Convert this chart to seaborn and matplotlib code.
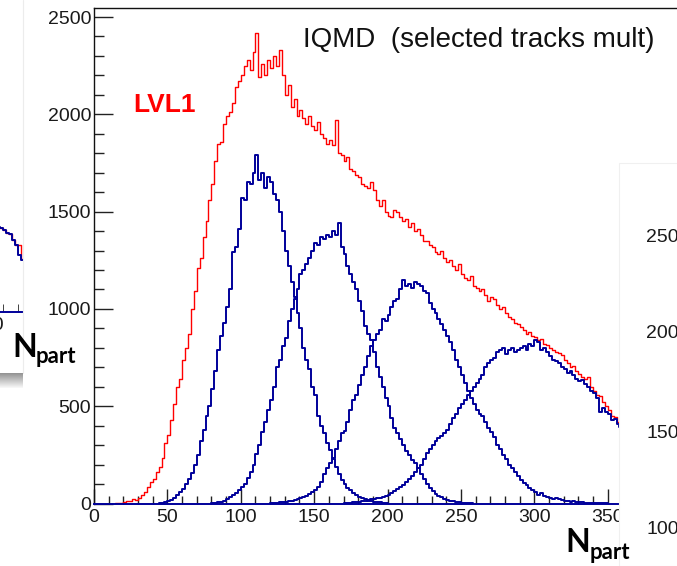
import numpy as np
import pandas as pd
import matplotlib
matplotlib.use("Agg")
import matplotlib.pyplot as plt
import seaborn as sns
from matplotlib.ticker import MultipleLocator
from matplotlib.patches import Rectangle
from matplotlib.lines import Line2D

# ---------------- data (bin width 2) ----------------
BIN = 2
red_start = 14
red_vals = [3, 5, 4, 10, 12, 15, 22, 20, 30, 42, 60, 85, 110, 125, 160, 190, 235, 310, 350, 430,
            510, 600, 640, 740, 800, 870, 1000, 1090, 1210, 1260, 1370, 1450, 1560, 1640, 1760, 1850,
            1860, 1950, 1990, 2010, 2060, 2140, 2170, 2200, 2250, 2280, 2230, 2320, 2420, 2190, 2260,
            2200, 2280, 2240, 2300, 2250, 2330, 2200, 2100, 2150, 2040, 2080, 1990, 2020, 1980, 1950,
            1990, 1940, 1920, 1960, 1900, 1880, 1850, 1870, 1840, 1970, 1800, 1790, 1760, 1780, 1720,
            1710, 1690, 1680, 1640, 1630, 1620, 1650, 1610, 1560, 1530, 1560, 1500, 1480, 1470, 1510,
            1500, 1470, 1450, 1460, 1420, 1440, 1400, 1410, 1380, 1350, 1350, 1330, 1320, 1290, 1280,
            1300, 1260, 1240, 1250, 1220, 1200, 1230, 1180, 1160, 1150, 1170, 1120, 1110, 1090, 1100,
            1070, 1040, 1060, 1050, 1020, 1000, 1010, 980, 960, 950, 930, 920, 905, 890, 870, 880, 860,
            855, 840, 845, 820, 815, 800, 790, 780, 775, 765, 740, 720, 700, 705, 680, 665, 650, 640,
            650, 600, 580, 560, 550, 520, 500, 480, 450, 445, 420, 405]

blue1_start = 44
blue1_vals = [2, 5, 8, 12, 18, 30, 45, 60, 75, 100, 125, 155, 200, 250, 320, 380, 450, 500, 590, 680,
              790, 860, 930, 1010, 1100, 1290, 1320, 1410, 1570, 1560, 1650, 1640, 1700, 1790, 1660,
              1700, 1620, 1680, 1650, 1590, 1560, 1500, 1400, 1300, 1220, 1140, 1060, 980, 900, 800,
              740, 690, 600, 560, 450, 400, 360, 310, 275, 230, 190, 150, 120, 100, 80, 70, 55, 45, 35,
              28, 22, 15, 12, 10, 8, 6, 4, 2]

blue2_start = 80
blue2_vals = [2, 4, 6, 10, 15, 25, 35, 45, 55, 70, 85, 100, 130, 160, 200, 255, 300, 370, 420, 480,
              530, 600, 700, 740, 810, 850, 940, 1000, 1050, 1100, 1180, 1200, 1230, 1260, 1300, 1340,
              1330, 1370, 1360, 1380, 1370, 1400, 1380, 1440, 1320, 1280, 1220, 1180, 1140, 1100, 1040,
              990, 910, 870, 840, 780, 700, 650, 600, 540, 500, 440, 390, 360, 330, 300, 270, 250, 225,
              210, 180, 150, 125, 100, 80, 65, 50, 40, 32, 25, 20, 15, 12, 9, 7, 5, 4, 3, 2]

blue3_start = 120
blue3_vals = [2, 3, 5, 6, 8, 10, 12, 15, 18, 22, 26, 32, 40, 50, 60, 70, 85, 110, 150, 180, 210, 235,
              280, 320, 360, 375, 420, 480, 530, 560, 610, 660, 700, 760, 810, 840, 870, 890, 950, 940,
              970, 1010, 1040, 1050, 1100, 1150, 1120, 1130, 1110, 1140, 1130, 1120, 1090, 1080, 1030,
              1000, 980, 950, 920, 890, 860, 830, 790, 740, 700, 660, 620, 580, 540, 510, 480, 460, 450,
              420, 390, 370, 340, 300, 280, 250, 230, 200, 180, 160, 140, 120, 105, 95, 80, 70, 60, 45,
              55, 40, 35, 30, 25, 28, 22, 18, 15, 12, 10, 14, 8, 6, 8, 5, 4, 3, 3, 2, 2, 1, 1]

blue4_start = 170
blue4_vals = [2, 3, 5, 6, 8, 10, 12, 15, 18, 22, 25, 28, 30, 33, 36, 45, 55, 65, 75, 85, 95, 110, 125,
              140, 160, 180, 200, 230, 260, 280, 300, 320, 335, 345, 360, 380, 410, 440, 460, 490, 510,
              530, 560, 580, 600, 620, 640, 660, 700, 720, 740, 750, 780, 790, 800, 770, 790, 800, 780,
              790, 800, 810, 790, 820, 810, 840, 830, 790, 800, 780, 760, 740, 730, 720, 700, 690, 670,
              680, 660, 640, 630, 635, 615, 600, 580, 570, 540, 470, 490, 470, 460, 430, 435, 410, 395]

# fragment of the neighbouring (left) panel
left_start = 340
left_blue_vals = [470, 460, 455, 445, 440, 438, 430, 428, 425, 420, 410, 395, 390, 360, 335, 285, 260]
left_red_vals = [470, 460, 455, 445, 440, 438, 430, 428, 425, 420, 410, 395, 390, 360, 335, 335, 262]

x_major = [0, 50, 100, 150, 200, 250, 300, 350]
y_major = [0, 500, 1000, 1500, 2000, 2500]
right_labels = ["2500", "2000", "1500", "1000"]

title_text = "IQMD  (selected tracks mult)"
series_label = "LVL1"

# ---------------- styling ----------------
RED = "#ff0000"
NAVY = "#00009a"
W, H = 677, 566
TICK_FS = 14

sns.set_style("white")
plt.rcParams["font.family"] = ["Liberation Sans", "DejaVu Sans"]

fig = plt.figure(figsize=(W / 100, H / 100), dpi=100)


def fx(px):
    return px / W


def fy(py):
    return 1 - py / H


PX_PER_X = 1.4677
ax_left, ax_right, ax_top, ax_bot = 94, 700, 7.5, 503.5
ax = fig.add_axes([fx(ax_left), fy(ax_bot), (ax_right - ax_left) / W, (ax_bot - ax_top) / H])


def draw_hist(axis, start, vals, color, lw):
    edges = [start + BIN * i for i in range(len(vals) + 1)]
    df = pd.DataFrame({"x": [e + BIN / 2 for e in edges[:-1]], "w": vals})
    sns.histplot(data=df, x="x", weights="w", bins=edges, element="step", fill=False,
                 color=color, linewidth=lw, ax=axis)


draw_hist(ax, red_start, red_vals, RED, 1.0)
for s, v in [(blue1_start, blue1_vals), (blue2_start, blue2_vals),
             (blue3_start, blue3_vals), (blue4_start, blue4_vals)]:
    draw_hist(ax, s, v, NAVY, 1.4)

ax.set_xlim(0, (ax_right - ax_left) / PX_PER_X)
ax.set_ylim(0, 2549)
ax.set_xlabel("")
ax.set_ylabel("")
ax.set_xticks(x_major)
ax.set_yticks(y_major)
ax.xaxis.set_minor_locator(MultipleLocator(10))
ax.yaxis.set_minor_locator(MultipleLocator(100))
ax.tick_params(axis="x", which="major", direction="in", length=11, width=1, color="#222222",
               labelsize=TICK_FS, pad=4, labelcolor="#1a1a1a", top=False, bottom=True)
ax.tick_params(axis="x", which="minor", direction="in", length=6, width=1, color="#222222",
               top=False, bottom=True)
ax.tick_params(axis="y", which="major", direction="in", length=14, width=1, color="#222222",
               labelsize=TICK_FS, pad=2, labelcolor="#1a1a1a", right=False, left=True)
ax.tick_params(axis="y", which="minor", direction="in", length=7, width=1, color="#222222",
               right=False, left=True)
ax.spines["right"].set_visible(False)
for sp in ["left", "top"]:
    ax.spines[sp].set_color("#111111")
    ax.spines[sp].set_linewidth(1.0)
ax.spines["bottom"].set_color(NAVY)
ax.spines["bottom"].set_linewidth(1.4)
ax.grid(False)

fig.text(fx(303), fy(47), title_text, fontsize=20, color="#111111", ha="left", va="baseline")
fig.text(fx(133), fy(111.5), series_label, fontsize=19, color=RED, fontweight="bold",
         ha="left", va="baseline")

# ---------------- right neighbouring panel (covers the plot) ----------------
fig.patches.append(Rectangle((fx(619), 0), fx(677 - 619) + 0.01, fy(163), transform=fig.transFigure,
                             facecolor="white", edgecolor="#f0f0f0", linewidth=0.8, zorder=5))
for lab, ypx in zip(right_labels, [237, 334, 433, 529]):
    fig.text(fx(646), fy(ypx), lab, fontsize=TICK_FS, color="#1a1a1a", ha="left", va="center", zorder=6)

# ---------------- left neighbouring panel fragment ----------------
lax_left, lax_right, lax_top, lax_bot = -100, 22.7, 111.7, 311.7
lax = fig.add_axes([fx(lax_left), fy(lax_bot), (lax_right - lax_left) / W, (lax_bot - lax_top) / H])
draw_hist(lax, left_start, left_red_vals, RED, 1.0)
draw_hist(lax, left_start, left_blue_vals, NAVY, 1.4)
u0 = 350 + (lax_left + 12) / 1.5
lax.set_xlim(u0, u0 + (lax_right - lax_left) / 1.5)
lax.set_ylim(0, 1000)
lax.set_xlabel("")
lax.set_ylabel("")
lax.set_xticks([350])
lax.set_yticks([])
lax.xaxis.set_minor_locator(MultipleLocator(10))
lax.tick_params(axis="x", which="major", direction="in", length=11, color="#222222",
                labelsize=TICK_FS, pad=4, labelcolor="#1a1a1a", bottom=True)
lax.tick_params(axis="x", which="minor", direction="in", length=6, color="#222222", bottom=True)
for sp in ["left", "top", "right"]:
    lax.spines[sp].set_visible(False)
lax.spines["bottom"].set_color(NAVY)
lax.spines["bottom"].set_linewidth(1.4)
lax.patch.set_alpha(0)

# faint border of the left panel
fig.lines.append(Line2D([fx(23), fx(23)], [fy(0), fy(373)], transform=fig.transFigure,
                        color="#ececec", linewidth=0.8))
# grey shadow bar under the left panel
sax = fig.add_axes([0, fy(388), fx(23), 15 / H])
grad = np.linspace(0.55, 0.97, 30).reshape(-1, 1)
sax.imshow(np.repeat(grad, 10, axis=1), cmap="gray", vmin=0, vmax=1, aspect="auto")
sax.axis("off")

# N_part labels (Calibri-like bold)
for nx, nb, px_, pb in [(565, 552, 590, 559), (12.5, 357, 36, 363)]:
    fig.text(fx(nx), fy(nb), "N", fontsize=23, fontweight="bold", family=["Lato", "DejaVu Sans"],
             color="black", ha="left", va="baseline", zorder=7)
    fig.text(fx(px_), fy(pb), "part", fontsize=16, fontweight="bold", family=["Lato", "DejaVu Sans"],
             color="black", ha="left", va="baseline", zorder=7)

fig.savefig("out.png", dpi=100)
